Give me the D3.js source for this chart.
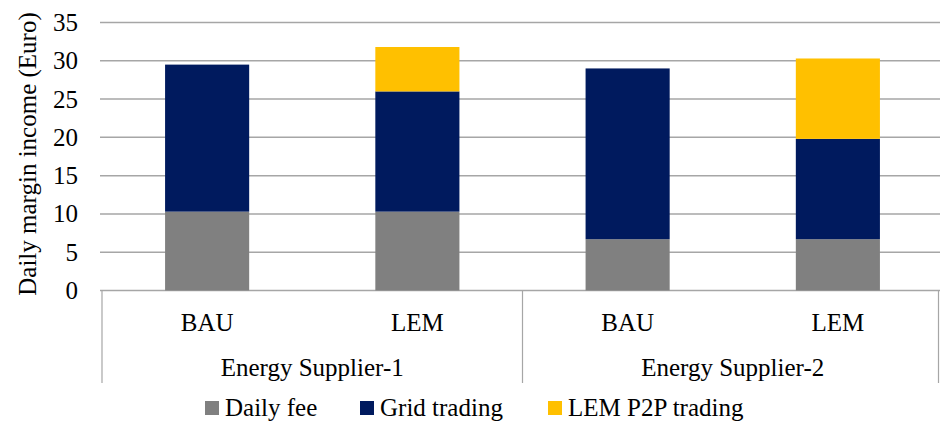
<!DOCTYPE html>
<html>
<head>
<meta charset="utf-8">
<script src="https://cdn.jsdelivr.net/npm/d3@7"></script>
</head>
<body style="margin:0">
<script>
/* chart values */
const suppliers = ["Energy Supplier-1", "Energy Supplier-2"];
const scenarios = ["BAU", "LEM"];
const seriesNames = ["Daily fee", "Grid trading", "LEM P2P trading"];
const seriesColors = ["#808080", "#001a5e", "#ffc000"];

// order: S1-BAU, S1-LEM, S2-BAU, S2-LEM
const dailyFee = [10.3, 10.3, 6.7, 6.7];
const gridTrading = [19.2, 15.7, 22.3, 13.1];
const p2pTrading = [0, 5.8, 0, 10.5];
const yTicks = [0, 5, 10, 15, 20, 25, 30, 35];

const WIDTH = 940;
const HEIGHT = 424;
const PLOT = {left: 102, right: 943, top: 22.5, bottom: 290.5};
const FONT = "Liberation Serif";

const svg = d3.select("body").append("svg")
    .attr("width", WIDTH).attr("height", HEIGHT)
    .style("display", "block");

// build table for the stack
let rows = [];
for (let i = 0; i < 4; i++) {
    rows.push({
        supplier: suppliers[Math.floor(i / 2)],
        scenario: scenarios[i % 2],
        "Daily fee": dailyFee[i],
        "Grid trading": gridTrading[i],
        "LEM P2P trading": p2pTrading[i]
    });
}

let x0 = d3.scaleBand().domain(suppliers).range([PLOT.left, PLOT.right]);
let x1 = d3.scaleBand().domain(scenarios).range([0, x0.bandwidth()])
    .paddingInner(0.6).paddingOuter(0.3);
let y = d3.scaleLinear().domain([0, 35]).range([PLOT.bottom, PLOT.top]);
let color = d3.scaleOrdinal().domain(seriesNames).range(seriesColors);

// gridlines
svg.append("g")
    .selectAll("line")
    .data(yTicks)
    .enter()
    .append("line")
    .attr("x1", PLOT.left - 2)
    .attr("x2", WIDTH)
    .attr("y1", d => y(d))
    .attr("y2", d => y(d))
    .attr("stroke", "#a6a6a6")
    .attr("stroke-width", 1.5);

// y tick labels
svg.append("g")
    .selectAll("text")
    .data(yTicks)
    .enter()
    .append("text")
    .attr("x", 78)
    .attr("y", d => y(d) + 8.5)
    .attr("text-anchor", "end")
    .style("font-family", FONT)
    .style("font-size", "25px")
    .text(d => d);

// y axis title
svg.append("text")
    .attr("transform", "translate(36,154) rotate(-90)")
    .attr("text-anchor", "middle")
    .style("font-family", FONT)
    .style("font-size", "25px")
    .text("Daily margin income (Euro)");

// stacked bars
let stack = d3.stack().keys(seriesNames);
let layers = stack(rows);

svg.append("g")
    .selectAll("g")
    .data(layers)
    .enter()
    .append("g")
    .attr("fill", d => color(d.key))
    .selectAll("rect")
    .data(d => d.filter(s => s[1] - s[0] > 0))
    .enter()
    .append("rect")
    .attr("x", d => x0(d.data.supplier) + x1(d.data.scenario))
    .attr("width", x1.bandwidth())
    .attr("y", d => y(d[1]))
    .attr("height", d => y(d[0]) - y(d[1]));

// category box lines
const boxBottom = 383;
let dividers = [PLOT.left, x0(suppliers[1]), WIDTH - 1.5];
svg.append("g")
    .selectAll("line")
    .data(dividers)
    .enter()
    .append("line")
    .attr("x1", d => d).attr("x2", d => d)
    .attr("y1", PLOT.bottom).attr("y2", boxBottom)
    .attr("stroke", "#a6a6a6")
    .attr("stroke-width", 1.2);

// scenario labels
svg.append("g")
    .selectAll("text")
    .data(rows)
    .enter()
    .append("text")
    .attr("x", d => x0(d.supplier) + x1(d.scenario) + x1.bandwidth() / 2)
    .attr("y", 331)
    .attr("text-anchor", "middle")
    .style("font-family", FONT)
    .style("font-size", "25px")
    .text(d => d.scenario);

// supplier labels
svg.append("g")
    .selectAll("text")
    .data(suppliers)
    .enter()
    .append("text")
    .attr("x", d => x0(d) + x0.bandwidth() / 2)
    .attr("y", 376)
    .attr("text-anchor", "middle")
    .style("font-family", FONT)
    .style("font-size", "25px")
    .text(d => d);

// legend
const legendX = [205, 360, 548];
let legend = svg.append("g")
    .selectAll("g")
    .data(seriesNames)
    .enter()
    .append("g")
    .attr("transform", (d, i) => "translate(" + legendX[i] + ",0)");

legend.append("rect")
    .attr("x", 0).attr("y", 401)
    .attr("width", 14).attr("height", 14)
    .attr("fill", d => color(d));

legend.append("text")
    .attr("x", 20).attr("y", 416)
    .style("font-family", FONT)
    .style("font-size", "25px")
    .text(d => d);
</script>
</body>
</html>
